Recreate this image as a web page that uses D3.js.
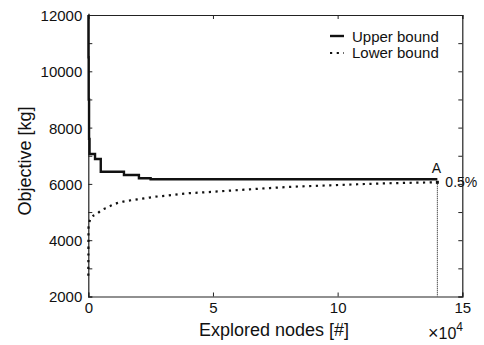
<!DOCTYPE html>
<html><head><meta charset="utf-8">
<script src="https://cdn.jsdelivr.net/npm/d3@7"></script>
<style>body{margin:0;background:#fff}svg{display:block;font-family:"Liberation Sans",Arial,sans-serif}</style>
</head><body>
<svg id="c" width="484" height="345"></svg>
<script>
const upperX = [0, 60, 150, 300, 500, 2700, 5000, 14300, 20300, 25000, 140000];
const upperY = [12000, 10500, 9000, 7600, 7060, 6885, 6433, 6316, 6199, 6165, 6165];
const lowerX = [0, 30, 80, 280, 1360, 3370, 5380, 7780, 10310, 12720, 15400, 17930, 20740, 23430, 25950, 31450, 36780, 50000, 66810, 80000, 96950, 117000, 140000];
const lowerY = [2740, 3500, 4433, 4575, 4824, 4930, 5073, 5169, 5275, 5346, 5393, 5428, 5464, 5499, 5535, 5581, 5641, 5720, 5819, 5890, 5950, 6014, 6057];
const xTicks = [0, 50000, 100000, 150000];
const yTicksMajor = [2000, 4000, 6000, 8000, 10000, 12000];
const yTicksMinor = [2000, 3000, 4000, 5000, 6000, 7000, 8000, 9000, 10000, 11000, 12000];
const seriesNames = ["Upper bound", "Lower bound"];
const gapLabel = "0.5%";
const pointLabel = "A";

(function () {
const W = 484, H = 345;
const m = {l: 88.3, r: 21.7, t: 15, b: 48.5};
const svg = d3.select("#c");
const x = d3.scaleLinear().domain([0, 150000]).range([m.l, W - m.r]);
const y = d3.scaleLinear().domain([2000, 12000]).range([H - m.b, m.t]);

const tl = 4;
const gB = svg.append("g").attr("transform", `translate(0,${H - m.b})`)
  .call(d3.axisBottom(x).tickValues(xTicks).tickSize(-tl).tickPadding(6).tickFormat(d => d / 10000));
const gT = svg.append("g").attr("transform", `translate(0,${m.t})`)
  .call(d3.axisTop(x).tickValues(xTicks).tickSize(-tl).tickFormat(""));
const gL = svg.append("g").attr("transform", `translate(${m.l},0)`)
  .call(d3.axisLeft(y).tickValues(yTicksMinor).tickSize(-tl).tickPadding(6)
    .tickFormat(d => yTicksMajor.includes(d) ? d : ""));
const gR = svg.append("g").attr("transform", `translate(${W - m.r},0)`)
  .call(d3.axisRight(y).tickValues(yTicksMinor).tickSize(-tl).tickFormat(""));
[gB, gT, gL, gR].forEach(g => {
  g.select(".domain").attr("stroke", "#222").attr("stroke-width", 1.2);
  g.selectAll(".tick line").attr("stroke", "#222");
  g.selectAll("text").attr("font-size", 15).attr("fill", "#111")
    .attr("font-family", "Liberation Sans, Arial, sans-serif");
});
gL.selectAll("text").attr("dy", "0.36em");
gB.selectAll("text").attr("dy", "0.72em");

const upper = upperX.map((d, i) => [d, upperY[i]]);
const lower = lowerX.map((d, i) => [d, lowerY[i]]);
svg.append("path").datum(upper)
  .attr("d", d3.line().x(d => x(d[0])).y(d => y(d[1])).curve(d3.curveStepAfter))
  .attr("fill", "none").attr("stroke", "#111").attr("stroke-width", 2.4);
svg.append("path").datum(lower)
  .attr("d", d3.line().x(d => x(d[0])).y(d => y(d[1])).curve(d3.curveMonotoneX))
  .attr("fill", "none").attr("stroke", "#111").attr("stroke-width", 2.2)
  .attr("stroke-dasharray", "2.2 4.5");

const lastX = lowerX[lowerX.length - 1], lastY = lowerY[lowerY.length - 1];
svg.append("line").attr("x1", x(lastX)).attr("x2", x(lastX))
  .attr("y1", y(lastY)).attr("y2", y(2000))
  .attr("stroke", "#111").attr("stroke-width", 1).attr("stroke-dasharray", "1 1");
svg.append("rect").attr("x", x(lastX) - 1.5).attr("y", y(lastY) - 1.5)
  .attr("width", 3).attr("height", 3).attr("fill", "#111");
svg.append("text").attr("x", x(lastX) - 1).attr("y", y(upperY[upperY.length - 1]) - 6)
  .attr("text-anchor", "middle").attr("font-size", 14).attr("fill", "#111").text(pointLabel);
svg.append("text").attr("x", x(lastX) + 8).attr("y", y(lastY) + 5)
  .attr("font-size", 14).attr("fill", "#111").text(gapLabel);

svg.append("text").attr("x", 274).attr("y", 336).attr("text-anchor", "middle")
  .attr("font-size", 18).attr("fill", "#111").text("Explored nodes [#]");
svg.append("text").attr("transform", "translate(31,161) rotate(-90)").attr("text-anchor", "middle")
  .attr("font-size", 18).attr("fill", "#111").text("Objective [kg]");
const mult = svg.append("text").attr("x", 428).attr("y", 339).attr("font-size", 16).attr("fill", "#111");
mult.append("tspan").attr("font-size", 18).text("×");
mult.append("tspan").text("10");
mult.append("tspan").attr("dy", -8).attr("font-size", 12).text("4");

const lg = svg.append("g");
lg.append("line").attr("x1", 330).attr("x2", 344).attr("y1", 36).attr("y2", 36)
  .attr("stroke", "#111").attr("stroke-width", 2.4);
lg.append("line").attr("x1", 330).attr("x2", 344).attr("y1", 53).attr("y2", 53)
  .attr("stroke", "#111").attr("stroke-width", 2.2).attr("stroke-dasharray", "2.2 4.5");
lg.append("text").attr("x", 352).attr("y", 41.5).attr("font-size", 15).attr("fill", "#111").text(seriesNames[0]);
lg.append("text").attr("x", 352).attr("y", 58).attr("font-size", 15).attr("fill", "#111").text(seriesNames[1]);
})();
</script>
</body></html>
